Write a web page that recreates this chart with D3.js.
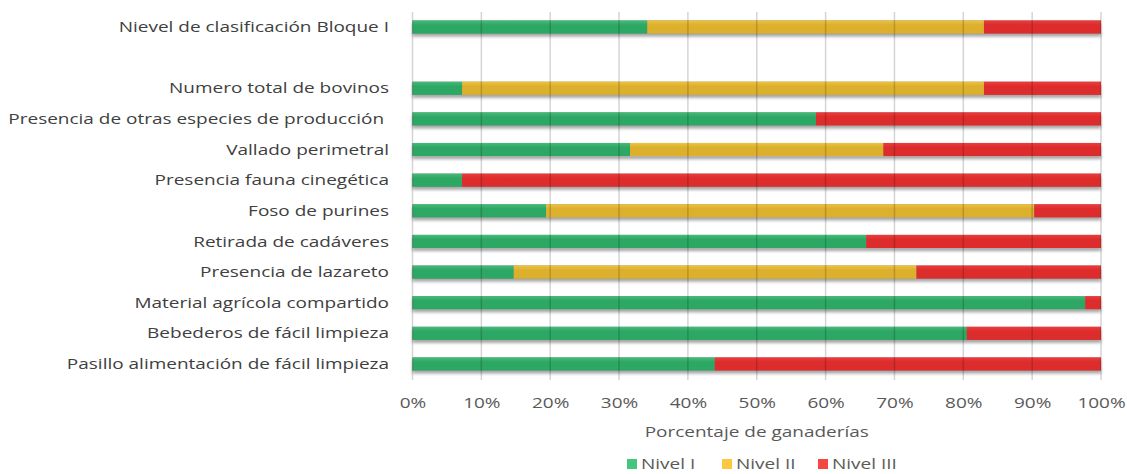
<!DOCTYPE html>
<html><head><meta charset="utf-8">
<script src="https://cdn.jsdelivr.net/npm/d3@7"></script>
<style>
html,body{margin:0;padding:0;background:#fff;}
svg{display:block;font-family:"Open Sans",sans-serif;}
</style></head>
<body>
<svg id="chart" width="1127" height="474"></svg>
<script>
const categories = [
  "Nievel de clasificación Bloque I",
  "",
  "Numero total de bovinos",
  "Presencia de otras especies de producción ",
  "Vallado perimetral",
  "Presencia fauna cinegética",
  "Foso de purines",
  "Retirada de cadáveres",
  "Presencia de lazareto",
  "Material agrícola compartido",
  "Bebederos de fácil limpieza",
  "Pasillo alimentación de fácil limpieza"
];
const nivel1 = [34.1, null, 7.2, 58.6, 31.6, 7.2, 19.4, 65.9, 14.7, 97.7, 80.5, 43.9];
const nivel2 = [48.9, null, 75.8, 0, 36.8, 0, 70.9, 0, 58.5, 0, 0, 0];
const nivel3 = [17.0, null, 17.0, 41.4, 31.6, 92.8, 9.7, 34.1, 26.8, 2.3, 19.5, 56.1];
const seriesNames = ["Nivel I", "Nivel II", "Nivel III"];
const xTicks = [0, 10, 20, 30, 40, 50, 60, 70, 80, 90, 100];
const xTitle = "Porcentaje de ganaderías";

const colors = {"Nivel I": ["#47bb7a", "#2da764"], "Nivel II": ["#ecc23e", "#dcb02c"], "Nivel III": ["#ee3c3c", "#dc2c2c"]};
const legendColors = {"Nivel I": "#48c47e", "Nivel II": "#fbc93f", "Nivel III": "#f54646"};
const FS = 14.5, SX = 1.31;

const svg = d3.select("#chart");
const defs = svg.append("defs");
const f = defs.append("filter").attr("id", "shadow").attr("x", "-5%").attr("y", "-50%").attr("width", "110%").attr("height", "250%");
f.append("feDropShadow").attr("dx", 0).attr("dy", 3).attr("stdDeviation", 1.8).attr("flood-color", "#000").attr("flood-opacity", 0.35);
seriesNames.forEach((s, i) => {
  const g = defs.append("linearGradient").attr("id", "g" + i).attr("x1", 0).attr("y1", 0).attr("x2", 0).attr("y2", 1);
  g.append("stop").attr("offset", "0%").attr("stop-color", colors[s][0]);
  g.append("stop").attr("offset", "35%").attr("stop-color", colors[s][1]);
  g.append("stop").attr("offset", "100%").attr("stop-color", colors[s][1]);
});

const x = d3.scaleLinear().domain([0, 100]).range([412.5, 1101]);
const y = d3.scaleBand().domain(categories.map((c, i) => i)).range([11.7, 379.3]).paddingInner(0.57).paddingOuter(0.285);

const rows = categories.map((c, i) => ({i, vals: [nivel1[i], nivel2[i], nivel3[i]]})).filter(r => r.vals[0] !== null);
const stacked = [];
rows.forEach(r => {
  let acc = 0;
  r.vals.forEach((v, k) => {
    if (v > 0) stacked.push({i: r.i, k, x0: acc, x1: acc + v});
    acc += v;
  });
});

const barG = svg.append("g");
barG.selectAll("rect.sh").data(rows).join("rect")
  .attr("x", x(0)).attr("width", x(100) - x(0))
  .attr("y", d => y(d.i)).attr("height", y.bandwidth())
  .attr("fill", "#888").attr("filter", "url(#shadow)");
barG.selectAll("rect.seg").data(stacked).join("rect")
  .attr("x", d => x(d.x0)).attr("width", d => x(d.x1) - x(d.x0))
  .attr("y", d => y(d.i)).attr("height", y.bandwidth())
  .attr("fill", d => "url(#g" + d.k + ")");

// gridlines on top
svg.append("g").selectAll("line").data(xTicks).join("line")
  .attr("x1", d => x(d)).attr("x2", d => x(d))
  .attr("y1", 12).attr("y2", 380)
  .attr("stroke", "rgba(0,0,0,0.17)").attr("stroke-width", 1.5);

// category labels
svg.append("g").selectAll("text").data(categories).join("text")
  .attr("transform", (d, i) => `translate(389,${y(i) + y.bandwidth() / 2}) scale(${SX},1)`)
  .attr("dy", "0.35em").attr("text-anchor", "end")
  .attr("font-size", FS).attr("fill", "#404040")
  .attr("xml:space", "preserve").style("white-space", "pre")
  .text(d => d);

// x axis ticks
const xAxis = d3.axisBottom(x).tickValues(xTicks).tickFormat(d => d + "%").tickSize(0).tickPadding(0);
const ax = svg.append("g").attr("transform", "translate(0,408)").call(xAxis);
ax.select(".domain").remove();
ax.selectAll("text").attr("y", 0).attr("dy", 0)
  .attr("transform", `scale(${SX},1)`)
  .attr("font-size", FS).attr("fill", "#595959").attr("font-family", "'Open Sans',sans-serif");

svg.append("text").attr("transform", `translate(${x(50)},437) scale(${SX},1)`).attr("text-anchor", "middle")
  .attr("font-size", FS).attr("fill", "#595959").text(xTitle);

// legend
const legX = [627, 722, 818];
const leg = svg.append("g").selectAll("g").data(seriesNames).join("g")
  .attr("transform", (d, i) => `translate(${legX[i]},459)`);
leg.append("rect").attr("width", 10).attr("height", 10).attr("fill", d => legendColors[d]);
leg.append("text").attr("transform", `translate(14,10) scale(${SX},1)`).attr("font-size", FS).attr("fill", "#595959").text(d => d);
</script>
</body></html>
